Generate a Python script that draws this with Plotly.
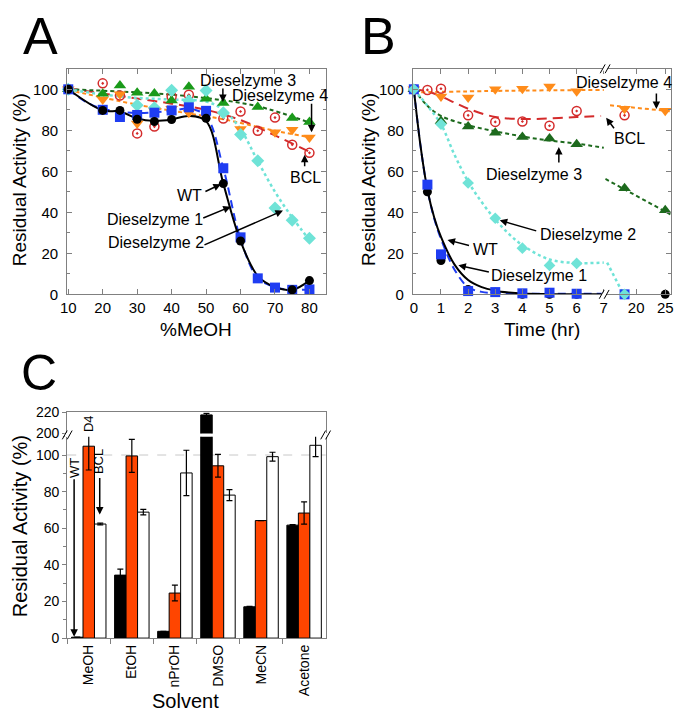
import plotly.graph_objects as go

# page body has an 8 px default margin: the figure starts at (8, 8) on the page
OFF = 8
W, H = 685 - OFF, 725 - OFF
def PX(x): return (x - OFF) / W
def PY(y): return 1 - (y - OFF) / H

# ---------------- Panel A data (%MeOH) ----------------
A_wt_x = [10, 20, 25, 30, 35, 40, 50, 55, 60, 75, 80]
A_wt_y = [100, 89.7, 89.7, 85.4, 84.3, 85.3, 85.9, 54, 26, 2.2, 6.7]
A_d1_x = [10, 20, 25, 30, 35, 40, 45, 50, 55, 60, 65, 70, 75, 80]
A_d1_y = [100, 90, 86.5, 87.5, 88.6, 89.7, 91.2, 89.5, 61.5, 27.8, 7.8, 3.3, 2.2, 2.4]
A_d2_x = [10, 30, 35, 40, 45, 50, 55, 60, 65, 70, 75, 80]
A_d2_y = [100, 92.2, 91, 99.5, 94.4, 99.4, 88.6, 77.9, 65.2, 42.1, 36.1, 27.3]
A_d3_x = [10, 20, 25, 30, 35, 40, 45, 50, 55, 65, 75, 80]
A_d3_y = [100, 97.8, 101.8, 98.3, 98, 94.5, 101.3, 95.4, 93.3, 91.4, 86, 84.1]
A_d4_x = [10, 20, 25, 30, 35, 40, 45, 60, 70, 75, 80]
A_d4_y = [100, 95, 97.6, 83.3, 89.4, 90.5, 88.6, 80.6, 79, 80.3, 76.5]
A_bcl_x = [10, 20, 25, 30, 35, 40, 45, 55, 60, 65, 70, 75, 80]
A_bcl_y = [100, 102.9, 97, 78.5, 81.8, 96.5, 97.3, 85.7, 89.2, 79.8, 86.2, 73, 69]

# fitted curves
A_wt_fit_x = [10, 20, 25, 30, 35, 40, 45, 50, 55, 60, 65, 70, 75, 80]
A_wt_fit_y = [100, 89.7, 89.2, 85.8, 84.6, 85.3, 87, 84.5, 54, 26, 9, 3.5, 2.2, 6.7]
A_d1_fit_x = [10, 15, 20, 30, 40, 45, 50, 55, 60, 65, 70, 75, 80]
A_d1_fit_y = [100, 94, 90.5, 88.5, 89.5, 90.5, 87, 61.5, 27, 8, 3.5, 2.2, 2.4]
A_d2_fit_x = [10, 20, 30, 40, 50, 55, 60, 65, 70, 75, 80]
A_d2_fit_y = [100, 97.5, 95.8, 95, 94, 90, 80.5, 65, 50, 37.5, 26.5]
A_d3_fit_x = [10, 35, 50, 65, 80]
A_d3_fit_y = [100, 98, 95.7, 91.7, 83.8]
A_d4_fit_x = [10, 30, 45, 55, 70, 80]
A_d4_fit_y = [99.7, 92.5, 88.2, 85.4, 79.8, 76.6]
A_bcl_fit_x = [10, 20, 30, 40, 50, 60, 70, 80]
A_bcl_fit_y = [100.5, 98, 95.5, 93, 90, 85, 77.5, 69.5]
A_ticks_x = [10, 20, 30, 40, 50, 60, 70, 80]

# ---------------- Panel B data (time, hr) ----------------
B_wt_x = [0, 0.5, 1, 2, 3, 4, 5, 6, 25]
B_wt_y = [100, 50, 16.5, 2.4, 1, 0, 0, 0, 0]
B_d1_x = [0, 0.5, 1, 2, 3, 4, 5, 6, 18]
B_d1_y = [100, 53.5, 19.5, 1.6, 1.1, 0.5, 0.8, 0.3, 0]
B_d2_x = [0, 1, 2, 3, 4, 5, 6, 18]
B_d2_y = [100, 83, 54.3, 37.1, 22.5, 14.1, 15.1, 0]
B_d3_x = [0, 1, 2, 3, 4, 5, 6, 18, 25]
B_d3_y = [100, 84.5, 81.8, 78.8, 76.7, 76, 73.2, 51.8, 41]
B_d4_x = [0, 1, 2, 3, 4, 5, 6, 18, 25]
B_d4_y = [100, 96.5, 96, 100, 100.3, 101.4, 99, 90.5, 89.5]
B_bcl_x = [0, 0.5, 1, 2, 3, 4, 5, 6, 18]
B_bcl_y = [100, 99.7, 100.3, 87.3, 84.1, 84.3, 82.2, 89.4, 87.3]

B_wt_fit_x = [0, 0.25, 0.5, 0.75, 1, 1.5, 2, 2.5, 3, 3.5, 4, 5, 6, 7]
B_wt_fit_y = [100, 72, 51, 37.5, 28, 14.5, 7, 3.5, 1.8, 0.9, 0.4, 0.1, 0, 0]
B_d1_fit_x = [0, 0.25, 0.5, 0.75, 1, 1.5, 2, 2.5, 3, 4, 5, 6, 7]
B_d1_fit_y = [100, 72, 51, 37, 27, 12, 3.5, 1.2, 0.6, 0.3, 0.3, 0.3, 0.3]
B_d2_fit_x = [0, 0.5, 1, 1.5, 2, 2.5, 3, 3.5, 4, 5, 6, 7]
B_d2_fit_y = [100, 92, 83, 68, 55, 45, 36.5, 29.5, 24, 17, 15.3, 15.5]
B_d2_fit2_x = [15.0, 17.8]
B_d2_fit2_y = [15.5, 0]
B_d3_fit_x = [0, 0.5, 1, 2, 3, 4, 5, 6, 7]
B_d3_fit_y = [100, 92, 87, 82.5, 79.5, 77, 75, 73.5, 71.5]
B_d3_fit2_x = [14.7, 25.9]
B_d3_fit2_y = [56.3, 39]
B_d4_fit_x = [0, 3.5, 7]
B_d4_fit_y = [98.5, 99.3, 99.7]
B_d4_fit2_x = [15.5, 25.9]
B_d4_fit2_y = [92.2, 89.3]
B_bcl_fit_x = [0, 0.5, 1, 1.5, 2, 3, 4, 5, 6, 6.9]
B_bcl_fit_y = [100, 99, 96.5, 93.5, 90.5, 86.5, 85.5, 85.8, 86.5, 87]
B_ticks_left = [0, 1, 2, 3, 4, 5, 6, 7]
B_ticks_right = [20, 25]
B_BREAK = 10

# ---------------- Panel C data (solvents) ----------------
solvents = ["MeOH", "EtOH", "nPrOH", "DMSO", "MeCN", "Acetone"]
C_wt = [0.5, 34.4, 3.7, 217.5, 17.1, 61.7]
C_wt_err = [0, 3.3, 0, 1.5, 0.3, 0.3]
C_d4 = [104.8, 99.5, 24.6, 94.1, 64.2, 68.3]
C_d4_err = [13, 9, 4.3, 6.2, 0, 6.1]
C_bcl = [62.3, 68.8, 90.2, 78.1, 99.1, 105.3]
C_bcl_err = [0.5, 1.5, 12.4, 3, 2.4, 6.2]
C_REF = 100

# ---------------- styles ----------------
FONT = "Liberation Sans, Arial, Helvetica, sans-serif"
C_WT = "black"
C_D1 = "#1f3df2"
C_D2 = "#6fe3d7"
C_D3A = "#1a9a1a"
C_D3B = "#1d6a1d"
C_D3L = "#1d6a1d"
C_D4 = "#ff8c1a"
C_BCL = "#d42b2b"
C_BAR_D4 = "#ff4500"
AX = "#808080"

fig = go.Figure()


def add_fit(x, y, color, dash, xa, ya, width=2):
    fig.add_trace(go.Scatter(x=x, y=y, mode="lines",
                             line=dict(color=color, dash=dash, width=width, shape="spline", smoothing=1),
                             xaxis=xa, yaxis=ya, hoverinfo="skip", showlegend=False))


def add_pts(x, y, symbol, color, size, xa, ya, lw=0, lc=None):
    fig.add_trace(go.Scatter(x=x, y=y, mode="markers",
                             marker=dict(symbol=symbol, color=color, size=size,
                                         line=dict(color=lc or color, width=lw)),
                             xaxis=xa, yaxis=ya, cliponaxis=False, showlegend=False))


def split(x, y):
    l = [(a, b) for a, b in zip(x, y) if a < B_BREAK]
    r = [(a, b) for a, b in zip(x, y) if a >= B_BREAK]
    return ([p[0] for p in l], [p[1] for p in l]), ([p[0] for p in r], [p[1] for p in r])


# ----- Panel A -----
add_fit(A_bcl_fit_x, A_bcl_fit_y, C_BCL, "10px,6px", "x", "y")
add_fit(A_d4_fit_x, A_d4_fit_y, C_D4, "4px,3px", "x", "y")
add_fit(A_d3_fit_x, A_d3_fit_y, C_D3L, "4px,3px", "x", "y")
add_fit(A_d2_fit_x, A_d2_fit_y, C_D2, "3px,3px", "x", "y", 2.5)
add_fit(A_d1_fit_x, A_d1_fit_y, C_D1, "8px,5px", "x", "y")
add_fit(A_wt_fit_x, A_wt_fit_y, C_WT, "solid", "x", "y")
add_pts(A_bcl_x, A_bcl_y, "circle-open-dot", C_BCL, 9, "x", "y", lw=1.5)
add_pts(A_d4_x, A_d4_y, "triangle-down", C_D4, 11, "x", "y")
add_pts(A_d3_x, A_d3_y, "triangle-up", C_D3A, 11, "x", "y")
add_pts(A_d2_x, A_d2_y, "diamond", C_D2, 10, "x", "y")
add_pts(A_d1_x, A_d1_y, "square", C_D1, 10, "x", "y")
add_pts(A_wt_x, A_wt_y, "circle", C_WT, 9, "x", "y")

# ----- Panel B -----
add_fit(B_bcl_fit_x, B_bcl_fit_y, C_BCL, "10px,6px", "x2", "y2")
add_fit(B_d4_fit_x, B_d4_fit_y, C_D4, "4px,3px", "x2", "y2")
add_fit(B_d4_fit2_x, B_d4_fit2_y, C_D4, "4px,3px", "x3", "y3")
add_fit(B_d3_fit_x, B_d3_fit_y, C_D3L, "4px,3px", "x2", "y2")
add_fit(B_d3_fit2_x, B_d3_fit2_y, C_D3L, "4px,3px", "x3", "y3")
add_fit(B_d2_fit_x, B_d2_fit_y, C_D2, "3px,3px", "x2", "y2", 2.5)
add_fit(B_d2_fit2_x, B_d2_fit2_y, C_D2, "3px,3px", "x3", "y3", 2.5)
add_fit(B_d1_fit_x, B_d1_fit_y, C_D1, "8px,5px", "x2", "y2")
add_fit(B_wt_fit_x, B_wt_fit_y, C_WT, "solid", "x2", "y2")

for xs, ys, sym, col, sz, lw in [
    (B_bcl_x, B_bcl_y, "circle-open-dot", C_BCL, 9, 1.5),
    (B_d4_x, B_d4_y, "triangle-down", C_D4, 11, 0),
    (B_d3_x, B_d3_y, "triangle-up", C_D3B, 11, 0),
    (B_wt_x, B_wt_y, "circle", C_WT, 9, 0),
    (B_d1_x, B_d1_y, "square", C_D1, 10, 0),
    (B_d2_x, B_d2_y, "diamond", C_D2, 9, 0),
]:
    (lx, ly), (rx, ry) = split(xs, ys)
    if lx:
        add_pts(lx, ly, sym, col, sz, "x2", "y2", lw=lw)
    if rx:
        add_pts(rx, ry, sym, col, sz, "x3", "y3", lw=lw)

# ----- Panel C (broken axis: lower y4, upper y5) -----
for xa, ya in [("x4", "y4"), ("x5", "y5")]:
    fig.add_trace(go.Bar(x=solvents, y=C_wt, marker=dict(color=C_WT, line=dict(color="black", width=1)),
                         error_y=dict(type="data", array=C_wt_err, color="black", thickness=1.2, width=3),
                         xaxis=xa, yaxis=ya, showlegend=False))
    fig.add_trace(go.Bar(x=solvents, y=C_d4, marker=dict(color=C_BAR_D4, line=dict(color="black", width=1)),
                         error_y=dict(type="data", array=C_d4_err, color="black", thickness=1.2, width=3),
                         xaxis=xa, yaxis=ya, showlegend=False))
    fig.add_trace(go.Bar(x=solvents, y=C_bcl, marker=dict(color="white", line=dict(color="black", width=1)),
                         error_y=dict(type="data", array=C_bcl_err, color="black", thickness=1.2, width=3),
                         xaxis=xa, yaxis=ya, showlegend=False))

# ---------------- axes ----------------
base = dict(showline=True, linecolor=AX, linewidth=1.2, showgrid=False, zeroline=False,
            tickcolor=AX, tickwidth=1, tickfont=dict(size=15, color="black", family=FONT))

yA_dom = [PY(292.7), PY(62)]
ydef = dict(base, range=[0, 110], tickmode="linear", tick0=0, dtick=20, ticks="inside", ticklen=5,
            minor=dict(ticks="inside", ticklen=3, dtick=10, tick0=0, tickcolor=AX),
            domain=yA_dom, ticklabelstandoff=5)

layout = dict(
    width=W, height=H, margin=dict(l=0, r=0, t=0, b=0),
    paper_bgcolor="white", plot_bgcolor="white",
    font=dict(family=FONT, color="black"),
    barmode="group", bargap=0.2, bargroupgap=0, showlegend=False,
    xaxis=dict(base, domain=[PX(61), PX(324)], range=[9.7, 84.9], tickvals=A_ticks_x,
               ticks="inside", ticklen=5, mirror="ticks", anchor="y"),
    yaxis=dict(ydef, anchor="x", mirror="ticks"),
    xaxis2=dict(base, domain=[PX(412), PX(607)], range=[-0.03, 7.05], tickvals=B_ticks_left,
                ticks="inside", ticklen=5, mirror="ticks", anchor="y2"),
    xaxis3=dict(base, domain=[PX(607), PX(674)], range=[14.66, 26.02], tickvals=B_ticks_right,
                ticks="inside", ticklen=5, mirror="ticks", anchor="y3"),
    yaxis2=dict(ydef, anchor="x2"),
    yaxis3=dict(ydef, anchor="x3", side="right", showticklabels=False),
    xaxis4=dict(base, domain=[PX(61), PX(323.3)], type="category", anchor="y4",
                ticks="outside", tickson="boundaries", ticklen=5, tickangle=-90,
                tickfont=dict(size=14, color="black", family=FONT)),
    xaxis5=dict(domain=[PX(61), PX(323.3)], matches="x4", anchor="y5", side="top", showline=True,
                linecolor=AX, linewidth=1.2, showticklabels=False, ticks="", showgrid=False, zeroline=False),
    yaxis4=dict(base, domain=[PY(644.3), PY(438.3)], range=[0, 110], anchor="x4", mirror=True,
                tickmode="linear", tick0=0, dtick=20, ticks="outside", ticklen=4,
                minor=dict(ticks="outside", ticklen=3, dtick=10, tick0=0, tickcolor=AX),
                tickfont=dict(size=14, color="black", family=FONT)),
    yaxis5=dict(base, domain=[PY(435), PY(413.3)], range=[200, 220], anchor="x5", mirror=True,
                tickvals=[200, 220], ticks="outside", ticklen=4,
                tickfont=dict(size=14, color="black", family=FONT)),
)
fig.update_layout(**layout)

# ---------------- shapes ----------------
shapes = []
shapes.append(dict(type="line", xref="x4 domain", x0=0, x1=1, yref="y4", y0=C_REF, y1=C_REF,
                   line=dict(color="#c8c8c8", width=1, dash="dash"), layer="below"))


def brk(X, Y, h=4.5):
    shapes.append(dict(type="rect", xref="paper", yref="paper", x0=PX(X - 2.5), x1=PX(X + 2.5),
                       y0=PY(Y + 2), y1=PY(Y - 2), fillcolor="white", line=dict(width=0)))
    for dx in (-2.5, 2.5):
        shapes.append(dict(type="line", xref="paper", yref="paper",
                           x0=PX(X + dx - 2.5), y0=PY(Y + h), x1=PX(X + dx + 2.5), y1=PY(Y - h),
                           line=dict(color="black", width=1)))


brk(607, 62)
brk(606, 292.7)
brk(61, 436.5)
brk(323.3, 436.5)
fig.update_layout(shapes=shapes)

# ---------------- annotations ----------------
ann = []


def txt(s, X, Y, size=16, angle=0):
    ann.append(dict(text=s, x=PX(X), y=PY(Y), xref="paper", yref="paper", showarrow=False,
                    xanchor="center", yanchor="middle", textangle=angle,
                    font=dict(size=size, color="black", family=FONT)))


def arrow(X0, Y0, X1, Y1):
    ann.append(dict(text="", x=PX(X1), y=PY(Y1), ax=X0 - X1, ay=Y0 - Y1, xref="paper", yref="paper",
                    showarrow=True, arrowhead=2, arrowsize=1,
                    arrowwidth=1.5, arrowcolor="black"))


# panel letters
txt("A", 34, 28, 52)
txt("B", 377, 28, 52)
txt("C", 32, 373, 50)
# axis titles
txt("Residual Activity (%)", 12, 175, 19, -90)
txt("Residual Activity (%)", 367, 175, 19, -90)
txt("%MeOH", 192, 329, 19)
txt("Time (hr)", 543, 329, 19)
txt("Residual Activity (%)", 13, 530, 20, -90)
txt("Solvent", 181, 709, 20)
# panel A labels
txt("Dieselzyme 3", 245, 73.5); arrow(219, 81, 219, 96)
txt("Dieselzyme 4", 276.5, 89); arrow(309, 97, 309, 127)
txt("BCL", 303, 173.5); arrow(302, 163, 302, 150)
txt("WT", 185, 192); arrow(200, 188, 217, 180)
txt("Dieselzyme 1", 150, 216.5); arrow(198, 215, 227, 203)
txt("Dieselzyme 2", 151, 239.5); arrow(200, 242, 280, 207)
# panel B labels
txt("Dieselzyme 4", 626.5, 76.5); arrow(659, 86, 659, 103)
txt("BCL", 632, 133); arrow(617, 124, 608, 112)
txt("Dieselzyme 3", 534.5, 170); arrow(560, 159, 560, 142)
txt("Dieselzyme 2", 589.5, 231.5); arrow(538, 228, 500, 217)
txt("WT", 485.5, 246.5); arrow(470, 243, 447, 237)
txt("Dieselzyme 1", 540, 273.5); arrow(490, 270, 458, 263)
# panel C labels
txt("WT", 68.3, 470, 13, -90); arrow(68, 484, 68, 643)
txt("D4", 82, 424.5, 13, -90)
txt("BCL", 93.5, 464, 13, -90); arrow(94, 480, 94, 518)

fig.update_layout(annotations=ann)
fig.write_html("out.html")
